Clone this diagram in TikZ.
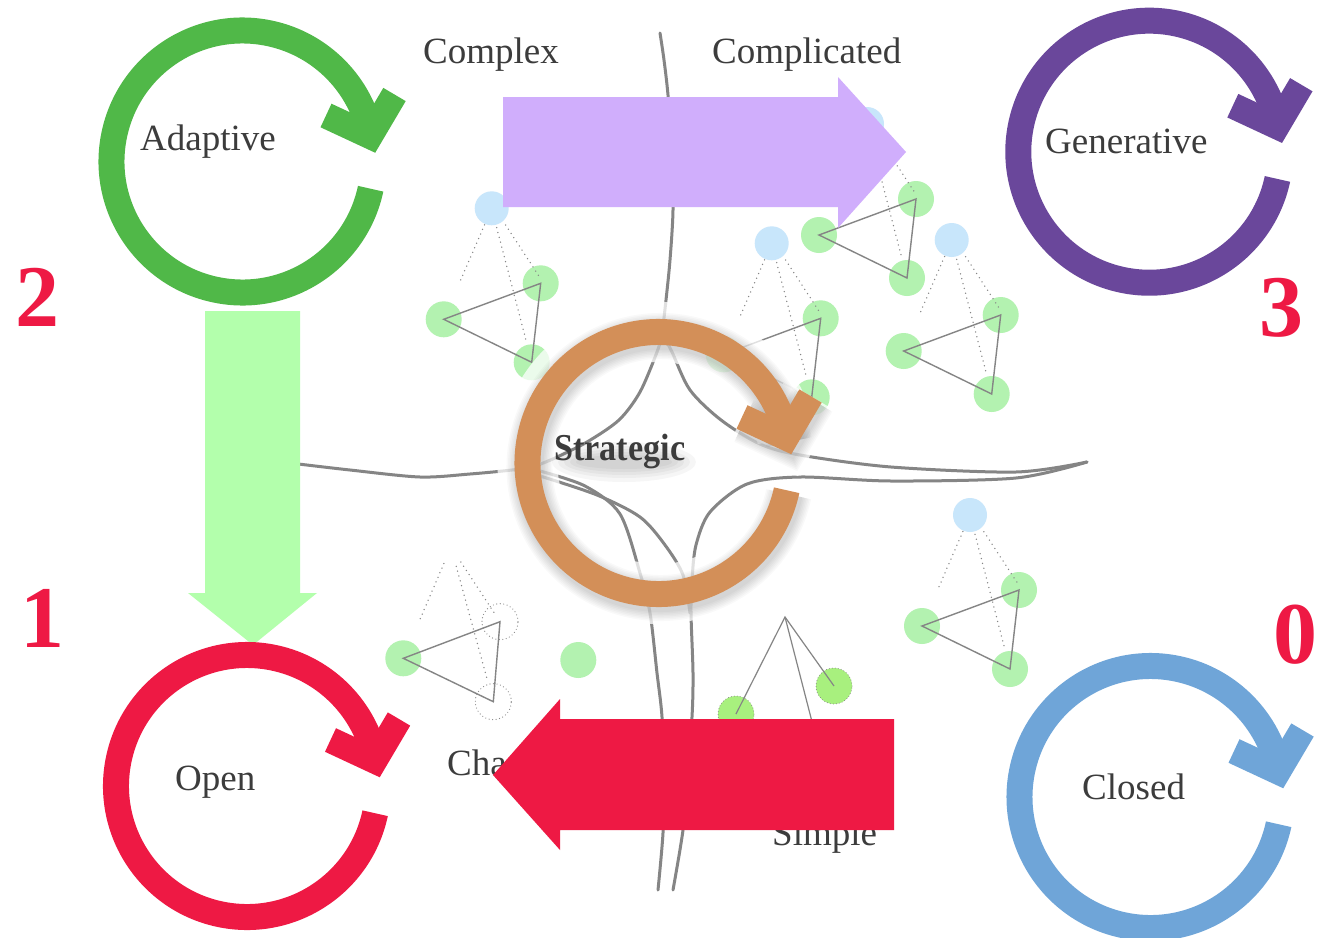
\documentclass[tikz,border=0pt]{standalone}
\usepackage{fontspec}
\usepackage{graphicx}
\setmainfont{Liberation Serif}
\usetikzlibrary{calc}
\definecolor{cgreen}{HTML}{50B848}
\definecolor{cred}{HTML}{EE1944}
\definecolor{cpurple}{HTML}{6A479B}
\definecolor{cblue}{HTML}{6FA5D8}
\definecolor{corange}{HTML}{D38F58}
\definecolor{agreen}{HTML}{B3FFAC}
\definecolor{apurple}{HTML}{D0AEFC}
\definecolor{ngreen}{HTML}{B3F2B0}
\definecolor{nbright}{HTML}{A8F07E}
\definecolor{nblue}{HTML}{C8E6FB}
\definecolor{sketch}{HTML}{858585}
\definecolor{txt}{HTML}{3C3C3C}
\tikzset{
  lbl/.style={font=\fontsize{37}{40}\selectfont, text=txt, inner sep=0pt, anchor=base west},
  digit/.style={font=\fontsize{88}{90}\selectfont\bfseries, text=cred, inner sep=0pt, anchor=base},
  gnode/.style={circle, fill=ngreen, minimum size=36pt, inner sep=0pt},
  bnode/.style={circle, fill=nblue, minimum size=34pt, inner sep=0pt},
  ghost/.style={circle, draw=sketch, line width=1.2pt, line cap=round, dash pattern=on 0pt off 3.5pt, minimum size=36pt, inner sep=0pt},
  dotl/.style={draw=sketch, line width=1.5pt, line cap=round, dash pattern=on 0pt off 5pt},
  tri/.style={draw=sketch, line width=1.4pt},
  sk/.style={draw=sketch, line width=3pt, line cap=round, line join=round},
  pics/cyc/.style={code={
    \draw[line width=26pt+#1, pic actions] (12:131) arc[start angle=12, end angle=349, radius=131];
    \draw[line width=26pt+#1, line join=miter, pic actions] (83.5,-46) -- (127.5,-25.5) -- (152,-67);
  }},
  pics/cyc/.default=0pt,
  pics/clus/.style={code={
    \node[bnode] (-b) at (0,0) {};
    \node[gnode] (-l) at (-48,111) {};
    \node[gnode] (-u) at (49,75) {};
    \node[gnode] (-r) at (40,154) {};
    \draw[dotl, shorten <=18pt, shorten >=42pt] (-b.center) -- (-l.center);
    \draw[dotl, shorten <=20pt, shorten >=8pt] ([xshift=3pt]-b.center) -- ([xshift=3pt]-u.center);
    \draw[dotl, shorten <=20pt, shorten >=22pt] (-b.center) -- (-r.center);
    \draw[tri] (-l.center) -- (-u.center) -- (-r.center) -- cycle;
  }},
}
\begin{document}
\begin{tikzpicture}[x=1pt,y=-1pt]
\useasboundingbox (0,0) rectangle (1335,937);
\fill[white] (0,0) rectangle (1335,937);

% background graph clusters
\pic (c1) at (491.7,208.3) {clus};
\pic (c2) at (771.7,243.3) {clus};
\pic (c3) at (867,124) {clus};
\pic (c4) at (951.7,240) {clus};
\pic (c5) at (970,515) {clus};

% ghost cluster lower left
\coordinate (g6b) at (451,547);
\node[gnode] (g6l) at (403.3,658.3) {};
\node[ghost] (g6u) at (500,621.7) {};
\node[ghost] (g6r) at (493.3,701.7) {};
\draw[dotl, shorten <=18pt, shorten >=40pt] (g6b) -- (g6l.center);
\draw[dotl, shorten <=18pt, shorten >=8pt] (g6b) -- (g6u.center);
\draw[dotl, shorten <=20pt, shorten >=22pt] (g6b) -- (g6r.center);
\draw[tri] (g6l.center) -- (g6u.center) -- (g6r.center) -- cycle;
\node[gnode] (lone) at (578.3,660) {};

% bottom middle cluster
\coordinate (apex) at (785,617);
\node[gnode, fill=nbright, draw=sketch, line width=1pt, dash pattern=on 0pt off 3pt, line cap=round] (c7a) at (736,714) {};
\node[gnode, fill=nbright, draw=sketch, line width=1pt, dash pattern=on 0pt off 3pt, line cap=round] (c7b) at (834,686) {};
\coordinate (c7c) at (818,745);
\draw[tri, line width=1.2pt] (c7a.center) -- (apex) -- (c7b.center);
\draw[tri, line width=1.2pt] (apex) -- (c7c);

% sketch lines
\draw[sk] plot[smooth, tension=0.5] coordinates {(660,33) (664,60) (668,95) (672,150) (673,210) (670,260) (666,300) (662,335)};
\draw[sk] plot[smooth, tension=0.5] coordinates {(662,335) (657,352) (640,392) (619,420) (587,442) (555,458) (538,465)};
\draw[sk] plot[smooth, tension=0.5] coordinates {(290,463) (350,470) (420,477) (470,474) (512,470) (538,466)};
\draw[sk] plot[smooth, tension=0.5] coordinates {(663,335) (672,352) (690,390) (721,420) (760,444) (800,455) (891,467) (1016,472) (1087,462)};
\draw[sk] plot[smooth, tension=0.5] coordinates {(1087,462) (1016,478) (891,481) (800,477) (747,484) (710,512) (696,545) (692,580) (691,613) (693,673) (692,717) (687,780) (683,830) (673,890)};
\draw[sk] plot[smooth, tension=0.5] coordinates {(540,471) (585,486) (620,514) (640,573) (650,613) (657,673) (662,717) (664,780) (663,833) (658,890)};
\draw[sk] plot[smooth, tension=0.5] coordinates {(540,476) (597,495) (640,517) (665,545) (683,575) (690,613)};

% labels of the quadrants
\node[lbl] (complex) at (423,63) {Complex};
\node[lbl] (complicated) at (712,63) {Complicated};
\node[lbl] (chaotic) at (447,775) {Chaotic};
\node[lbl] (simple) at (772,845) {Simple};

% strategic ring with soft shadow
\pic[draw=white, draw opacity=0.75] at (658.5,463) {cyc=34pt};
\foreach \k in {2pt,5pt,8pt,11pt,14pt,17pt,20pt}
  \pic[draw=black, draw opacity=0.022] at (660.5,467) {cyc=\k};
\pic[draw=corange] (rorange) at (658.5,463) {cyc};
% soft shadow under the word
\foreach \rx/\ry in {72/20,66/16,60/13,54/10,48/7}
  \fill[black, opacity=0.035] (624,462) ellipse[x radius=\rx, y radius=\ry];
\node[font=\fontsize{38}{40}\selectfont\bfseries, text=txt, inner sep=0pt, anchor=base west] (strat) at (554,460) {\scalebox{0.9}[1]{Strategic}};

% block arrows
\fill[apurple] (503,97) -- (838,97) -- (838,77) -- (906,152) -- (838,228) -- (838,207) -- (503,207) -- cycle;
\fill[cred] (894,719) -- (560,719) -- (560,699) -- (493,775) -- (560,850) -- (560,830) -- (894,830) -- cycle;
\fill[agreen] (205,311) -- (300,311) -- (300,593) -- (317,593) -- (253,645) -- (188,593) -- (205,593) -- cycle;

% corner cycles
\pic[draw=cgreen] (radaptive) at (242.5,161.5) {cyc};
\pic[draw=cpurple] (rgenerative) at (1149.3,151.7) {cyc};
\pic[draw=cred] (ropen) at (247,786) {cyc};
\pic[draw=cblue] (rclosed) at (1150.5,797) {cyc};

\node[lbl] (adaptive) at (140,150) {Adaptive};
\node[lbl] (generative) at (1045,153) {Generative};
\node[lbl] (open) at (175,790) {Open};
\node[lbl] (closed) at (1082,799) {Closed};

% level numbers
\node[digit] (n2) at (37.5,326) {2};
\node[digit] (n1) at (42,647) {1};
\node[digit] (n3) at (1281,336) {3};
\node[digit] (n0) at (1295,663) {0};
\end{tikzpicture}
\end{document}
